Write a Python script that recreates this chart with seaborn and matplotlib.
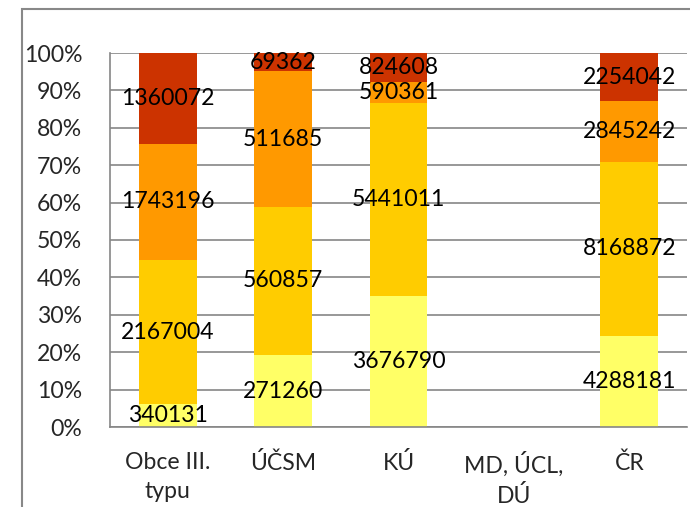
import numpy as np
import pandas as pd
import matplotlib
matplotlib.use("Agg")
import matplotlib.pyplot as plt
import matplotlib.patches as mpatches
import seaborn as sns

# categories and the four stacked series (absolute values)
categories = ["Obce III.\ntypu", "ÚČSM", "KÚ", "MD, ÚCL,\nDÚ", "ČR"]
s1 = [340131, 271260, 3676790, 0, 4288181]
s2 = [2167004, 560857, 5441011, 0, 8168872]
s3 = [1743196, 511685, 590361, 0, 2845242]
s4 = [1360072, 69362, 824608, 0, 2254042]
colors = ["#FFFF66", "#FFCC00", "#FF9900", "#CC3300"]

sns.set_style("white")
plt.rcParams["font.family"] = ["Lato", "DejaVu Sans"]

vals = np.array([s1, s2, s3, s4], dtype=float)
tot = vals.sum(axis=0)
tot[tot == 0] = 1
share = vals / tot
cum = share.cumsum(axis=0)

fig = plt.figure(figsize=(6.9, 5.07), dpi=100)
ax = fig.add_axes([110 / 690, 1 - 427 / 507, 577 / 690, 374 / 507])

# stacking: draw cumulative heights from the top down
for i in range(3, -1, -1):
    df = pd.DataFrame({"cat": categories, "h": cum[i]})
    sns.barplot(data=df, x="cat", y="h", order=categories, color=colors[i],
                width=0.5, ax=ax, saturation=1, zorder=2, linewidth=0)

fs = 16.6
for i in range(4):
    for j in range(len(categories)):
        if vals[i, j] == 0:
            continue
        mid = cum[i, j] - share[i, j] / 2
        ax.text(j, mid, f"{int(vals[i, j])}", ha="center", va="center",
                fontsize=fs, color="black", zorder=3)

ax.set_xlim(-0.5, len(categories) - 0.5)
ax.set_ylim(0, 1)
ax.set_yticks(np.arange(0, 1.01, 0.1))
ax.set_yticklabels([f"{int(round(t * 100))}%" for t in np.arange(0, 1.01, 0.1)])
ax.set_xlabel("")
ax.set_ylabel("")
ax.grid(axis="y", color="#868686", linewidth=1.2, zorder=0)
ax.set_axisbelow(True)

ax.set_xticks(np.arange(-0.5, len(categories), 1), minor=True)
ax.tick_params(axis="x", which="major", length=0, pad=18, labelsize=fs)
ax.tick_params(axis="x", which="minor", length=7, width=1.2, color="#868686", direction="out")
ax.tick_params(axis="y", length=8, width=1.2, color="#868686", direction="out", labelsize=fs, pad=12)
for lab in ax.get_xticklabels():
    lab.set_linespacing(1.45)

for side in ["top", "right"]:
    ax.spines[side].set_visible(False)
for side in ["left", "bottom"]:
    ax.spines[side].set_color("#868686")
    ax.spines[side].set_linewidth(1.2)
ax.spines["left"].set_zorder(1)

# chart area border
fig.patches.append(mpatches.Rectangle((22 / 690, -0.1), 1.0, 1 - 9 / 507 + 0.1,
                                      transform=fig.transFigure, fill=False,
                                      edgecolor="#888888", linewidth=1.5))

fig.savefig("out.png", dpi=100)
